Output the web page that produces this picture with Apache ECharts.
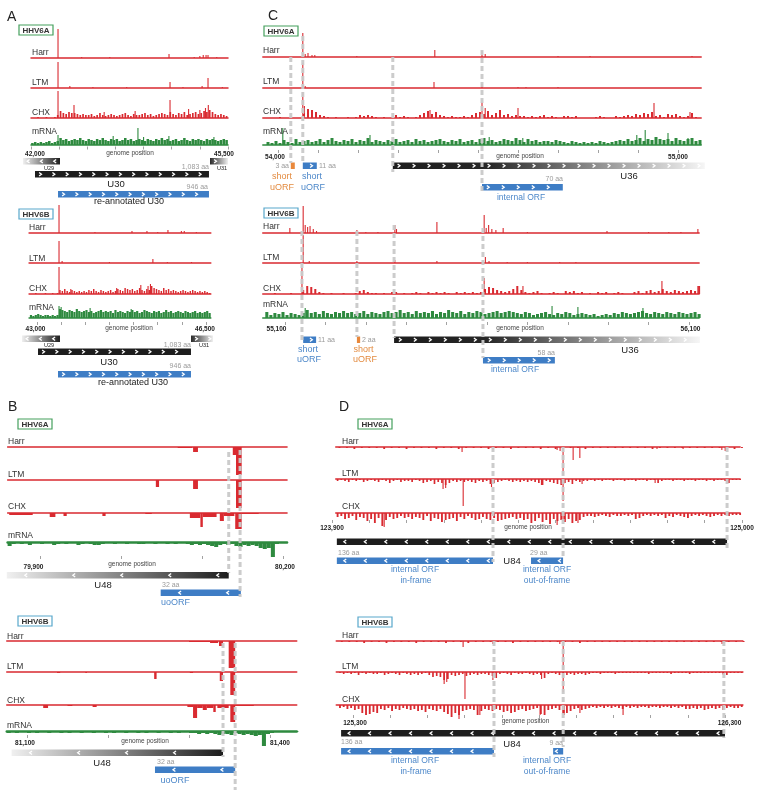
<!DOCTYPE html>
<html><head><meta charset="utf-8">
<script src="https://cdn.jsdelivr.net/npm/echarts/dist/echarts.min.js"></script>
<style>html,body{margin:0;padding:0;background:#fff}#c{width:760px;height:791px}</style>
</head><body><div id="c"></div>
<script>
// ================= DATA (genomic positions in bp, signal in relative read density) =================
// ---- Panel A, HHV6A ----
const A6A_AXIS = [42000, 45500, 500];
const A6A_HARR = [[42480,29],[42900,1],[43400,1],[44452,4],[44900,1],[45000,2],[45060,3],[45110,3],[45145,3],[45300,1]];
const A6A_LTM = [[42480,26],[42690,2],[43100,1],[43700,1],[44470,6],[44700,1],[45040,2],[45145,10],[45400,1]];
const A6A_CHX_BINS = [0,0,1,0,0,1,0,0,1,3, 7,5,4,6,5,5,4,3,4,3, 3,4,2,3,5,3,2,3,4,3, 2,3,4,5,3,2,4,3,3,4, 5,3,4,2,3,4,5,4,3,6, 4,3,5,4,6,3,4,5,6,4, 5,7,6,8,6,4,3,4,3,2];
const A6A_CHX_PEAKS = [[42480,27],[42764,13],[43300,6],[43850,7],[44470,18],[44800,9],[45000,8],[45100,10],[45150,13]];
const A6A_MRNA_BINS = [2,3,2,3,2,3,4,2,3,4, 7,5,6,4,5,6,5,7,5,4, 6,5,4,6,5,7,5,4,6,5, 6,4,5,7,5,6,4,5,6,5, 4,6,5,4,6,5,7,5,6,4, 5,6,4,5,7,5,4,6,5,6, 5,4,6,5,6,5,4,5,6,5];
const A6A_MRNA_PEAKS = [[42480,10],[43460,9],[43900,17],[44000,8],[44450,9],[45250,8]];
const A6A_GENES = [['U29',41858,42515,'-','fadeL'],['U31',45180,45500,'+','fadeR'],['U30',42071,45162,'+','black'],['re-annotated U30',42480,45162,'+','blue']];
// ---- Panel A, HHV6B ----
const A6B_AXIS = [43000, 46500, 500];
const A6B_HARR = [[43456,28],[44200,1],[44967,2],[45277,2],[45500,1],[45712,3],[45990,2],[46050,2],[46300,1]];
const A6B_LTM = [[43456,22],[43520,2],[44500,1],[45400,4],[45700,1],[46200,1]];
const A6B_CHX_BINS = [0,0,1,0,0,0,1,0,0,1,0,1, 4,3,5,3,2,4,3,2,3,2, 3,2,4,3,5,3,2,4,3,2, 3,4,2,3,5,4,3,6,5,4, 5,3,4,6,4,3,5,4,8,6, 5,4,3,6,4,5,3,4,3,2, 3,4,3,2,3,4,3,2,3,2,3,2,1];
const A6B_CHX_PEAKS = [[43456,27],[43700,5],[44650,6],[45150,9],[45300,8],[45350,10]];
const A6B_MRNA_BINS = [3,2,3,4,3,2,3,3,2,3,2,3, 9,8,7,6,8,7,6,9,7,6, 7,8,6,7,5,6,7,8,6,7, 6,7,5,8,6,7,6,5,7,6, 8,6,7,5,6,8,7,6,5,7, 6,7,5,6,8,6,7,5,6,7, 6,5,7,6,5,6,7,5,6,5,6,7,5];
const A6B_MRNA_PEAKS = [[43456,12],[43500,11],[44100,10],[44950,9]];
const A6B_GENES = [['U29',42689,43476,'-','fadeL'],['U31',46189,46645,'+','fadeR'],['U30',43021,46189,'+','black'],['re-annotated U30',43435,46189,'+','blue']];
// ---- Panel C, HHV6A ----
const C6A_AXIS = [54000, 55000, 100];
const C6A_HARR = [[54062,24],[54068,3],[54075,4],[54085,2],[54092,2],[54197,1],[54392,7],[54510,6],[54518,3],[54700,1],[54780,1],[55035,1]];
const C6A_LTM = [[54062,25],[54068,2],[54390,6],[54510,4],[54600,1],[54620,1],[54700,1]];
const C6A_CHX_BINS = [0,0,0,1,0,0,0,0,0, 4,9,8,6,3,2, 1,0,1,0,0,1,0,1, 3,2,3,2,1, 0,1,0,1, 3,1,2,1,0,1, 3,5,7,4,6,3, 2,1,2,1, 1,2,1,3, 5,6,4,7, 3,5,8,3,4,2,3,2,2, 1,2,1,2,3,1,2,1,0,2, 2,1,2,0,0,0,0,1,2,1, 0,0,2,1,2,3,2,4,3,5, 4,6,2,3,1,4,3,4,2,1, 2,5,1,0];
const C6A_CHX_PEAKS = [[54062,26],[54066,12],[54380,8],[54510,16],[54518,10],[54600,10],[54940,15],[55030,6]];
const C6A_MRNA_BINS = [3,2,4,2,5,3,2,6,3,4, 5,3,4,6,3,5,7,4,3,5, 4,6,3,5,4,7,3,5,4,3, 5,4,6,3,4,5,3,6,4,5, 3,4,5,6,4,3,5,4,6,3, 4,5,3,6,7,4,5,3,4,6, 5,4,7,5,3,6,4,5,3,4, 4,3,5,4,3,2,4,3,2,3, 2,3,2,4,3,2,3,4,5,4, 6,4,5,7,4,6,5,8,6,5, 6,4,7,5,4,6,7,4,5];
const C6A_MRNA_PEAKS = [[54012,17],[54230,10],[54528,8],[54612,7],[54897,10],[54918,15],[54975,12],[55025,7]];
const C6A_GENES = [['short uORF',54032,54042,'+','orange'],['short uORF',54062,54097,'+','blue'],['U36',54287,55067,'+','fadeEnd'],['internal ORF',54510,54712,'+','blue']];
const C6A_MARKS = [54032, 54062, 54287, 54510];
// ---- Panel C, HHV6B ----
const C6B_AXIS = [55100, 56100, 100];
const C6B_HARR = [[55112,5],[55145,27],[55150,8],[55156,6],[55162,7],[55170,4],[55178,2],[55278,3],[55300,1],[55330,1],[55372,8],[55376,4],[55476,11],[55593,18],[55598,5],[55604,8],[55612,4],[55622,3],[55640,5],[55700,1],[55897,2],[56000,1],[56050,1],[56080,1],[56122,4]];
const C6B_LTM = [[55145,28],[55160,2],[55278,2],[55372,3],[55476,2],[55596,6],[55605,2],[55650,1],[55700,1],[55780,1],[55820,1]];
const C6B_CHX_BINS = [0,0,1,0,0,0,1,0,0, 4,8,7,5,2, 1,0,1,0,0,1,0,0,1, 3,4,2,1,1, 0,1,0,2,2,0, 1,0,1,2,1,0,2,1,2,1, 2,1,0,2,1,2,1,2,1,2, 5,7,6,4,3,2, 3,5,8,4,2,1,2,3,1,0, 1,2,1,0,3,2,3,1,2,0, 1,0,2,1,2,0,1,2,1,0, 0,2,3,1,3,4,2,3,5,3, 2,4,3,2,3,4,3,8];
const C6B_CHX_PEAKS = [[55142,26],[55593,16],[55689,8],[56033,13],[56122,8]];
const C6B_MRNA_BINS = [6,3,5,4,6,3,5,4,3,5, 8,5,6,4,7,5,4,6,5,7, 5,6,4,5,7,4,6,5,4,6, 7,5,6,8,5,6,4,7,5,6, 5,7,4,6,5,8,6,5,7,4, 6,5,7,6,4,5,6,7,5,6, 7,6,5,4,6,5,3,4,5,6, 4,3,5,4,6,5,3,4,5,4, 3,4,2,3,4,3,5,4,6,5, 4,5,6,7,5,4,6,5,4,6, 5,4,6,5,4,5,6,4];
const C6B_MRNA_PEAKS = [[55150,10],[55761,12],[55825,11],[55986,10]];
const C6B_GENES = [['short uORF',55145,55177,'+','blue'],['short uORF',55278,55286,'+','orange'],['U36',55370,56127,'+','fadeEnd'],['internal ORF',55590,55768,'+','blue']];
const C6B_MARKS = [55142, 55278, 55370, 55590];
// ---- Panel B, HHV6A (minus strand, [start, end, signal]) ----
const B6A_AXIS = [79900, 80200, 100];
const B6A_HARR = [[80070,80088,1],[80089,80095,5],[80138,80142,8],[80142,80149,28]];
const B6A_LTM = [[80043,80047,7],[80089,80095,9],[80142,80149,28]];
const B6A_CHX = [[79862,79891,2],[79912,79919,4],[79929,79933,3],[79977,79981,3],[80030,80038,1],[80085,80098,5],[80098,80101,14],[80101,80118,4],[80122,80127,8],[80127,80140,3],[80141,80149,16],[80149,80170,1]];
const B6A_MRNA_BINS = [4,2,1,2,1,3,1,1,2,1, 1,3,2,1,2,1,1,3,2,1, 2,3,3,2,1,1,2,1,1,2, 1,1,2,2,1,1,2,1,1,2, 1,2,1,1,2,3,2,3,2,3, 4,5,3,2,3,2,4,5,3,4, 3,4,6,7,6,15,2,1,1];
const B6A_GENES = [['U48',79859,80133,'-','fadeL'],['uoORF',80049,80148,'-','blue']];
const B6A_MARKS = [80133, 80147];
// ---- Panel B, HHV6B ----
const B6B_AXIS = [81100, 81400, 100];
const B6B_HARR = [[81300,81326,1],[81326,81336,2],[81337,81342,5],[81349,81357,27]];
const B6B_LTM = [[81137,81141,1],[81172,81174,1],[81257,81260,7],[81301,81305,1],[81338,81342,9],[81351,81357,23]];
const B6B_CHX = [[81120,81126,3],[81150,81156,1],[81181,81186,2],[81298,81305,2],[81305,81310,13],[81310,81317,3],[81317,81322,5],[81322,81330,3],[81330,81333,7],[81335,81349,3],[81351,81357,17],[81357,81380,1]];
const B6B_MRNA_BINS = [2,1,2,1,1,2,1,2,1,1, 2,1,1,2,1,2,1,1,2,1, 1,2,1,1,2,1,2,1,1,2, 1,1,2,1,2,1,1,2,1,1, 2,1,2,1,1,2,2,3,2,3, 2,3,4,3,3,4,2,3,4,3, 4,5,4,15,3,2,1,1,1,1,1,1];
const B6B_GENES = [['U48',81081,81342,'-','fadeL'],['uoORF',81258,81357,'-','blue']];
const B6B_MARKS = [81342, 81357];
// ---- Panel D, HHV6A (minus strand) ----
const D6A_AXIS = [123900, 125000, 100];
const D6A_HARR_BINS = [1,1,2,1,1,1,2,1,1,2, 1,1,1,2,1,1,2,1,1,1, 2,1,1,2,1,1,1,2,1,2, 1,1,1,2,1,1,1,1,1,1, 1,1,2,1,1,1,1,1,1,1, 1,1,1,2,1];
const D6A_HARR_PEAKS = [[124249,5],[124332,3],[124504,3],[124512,4],[124520,28],[124547,13],[124565,11],[124772,2],[124842,2],[124946,3],[124955,4]];
const D6A_LTM_BINS = [2,1,2,3,1,2,1,3,2,1, 2,3,1,2,4,2,1,3,2,2, 3,1,2,4,3,2,5,3,4,6, 4,2,3,2,3,2,3,4,2,3, 2,5,4,3,2,1,2,3,2,3, 2,3,2,3,4,6,2,3,4,5, 6,4,3,5,2,3,2,2,1,2, 1,2,1,1,2,1,1,2,1,1, 2,1,1,2,1,1,4,2,1,1, 2,1,1,2,1,1,2,1,1,2, 1,2,1,1,2,4,1,1,1];
const D6A_LTM_PEAKS = [[124198,10],[124205,9],[124252,27],[124328,8],[124462,6],[124520,22],[124571,5],[124767,4],[124960,4]];
const D6A_CHX_BINS = [4,3,6,5,3,7,4,5,8,6, 10,5,13,7,4,6,5,3,5,4, 6,4,5,7,3,8,5,6,9,7, 6,5,8,4,6,3,5,7,6,4, 6,7,5,8,7,6,5,4,6,5, 7,6,10,8,5,9,7,11,6,8, 7,9,6,10,8,7,4,3,3,4, 3,2,3,4,2,3,3,2,3,2, 6,5,3,2,3,2,3,2,5,3, 4,2,3,4,5,3,2,3,2,3, 4,3,2,3,2,3,2,2,2];
const D6A_CHX_PEAKS = [[124040,14],[124504,12],[124520,8],[124560,10]];
const D6A_GENES = [['U84',123913,124960,'-','black'],['internal ORF in-frame',123913,124332,'-','blue'],['internal ORF out-of-frame',124434,124520,'-','blue']];
const D6A_MARKS = [124332, 124520, 124960];
// ---- Panel D, HHV6B ----
const D6B_AXIS = [125300, 126300, 100];
const D6B_HARR_BINS = [1,1,1,2,1,1,2,1,1,1, 2,1,1,1,2,1,1,2,1,1, 1,1,1,2,1,1,1,1,1,1, 1,1,2,1,1,1,1,1,1,1, 1,1,1,1,1,1,1,1,1,1, 1,1,1,1,1];
const D6B_HARR_PEAKS = [[125596,6],[125676,3],[125856,3],[125865,29],[126292,3],[126297,2]];
const D6B_LTM_BINS = [1,2,1,2,1,3,1,2,1,2, 2,1,3,2,1,2,3,1,2,3, 2,3,2,1,3,5,4,5,8,7, 3,4,3,2,4,3,2,3,2,2, 3,4,6,2,1,2,3,1,2,2, 1,2,3,2,3,6,2,1,2,3, 4,3,2,3,2,2,3,2,1,1, 2,1,1,1,2,1,1,1,1,1, 1,1,1,2,1,1,1,1,1,2, 1,1,1,1,2,1,1,1,1,1, 1,1,1,2,3,1,1,1,1];
const D6B_LTM_PEAKS = [[125545,12],[125552,10],[125601,27],[125676,8],[125807,7],[125865,20],[126295,3]];
const D6B_CHX_BINS = [3,2,4,3,5,4,8,10,9,7, 8,4,5,3,6,4,5,3,4,5, 4,6,5,7,4,5,6,4,7,9, 12,8,10,6,5,4,5,10,6,4, 5,6,4,5,7,6,8,7,5,4, 6,5,4,3,9,10,5,4,3,5, 9,8,6,4,3,5,4,3,2,3, 2,3,2,3,2,3,4,2,3,2, 3,2,2,3,2,2,3,2,2,3, 2,3,2,4,4,3,4,3,5,4, 3,4,3,5,3,2,3,3,2];
const D6B_CHX_PEAKS = [[125585,14],[125641,10],[125803,10],[125868,10],[125910,8],[126026,10]];
const D6B_GENES = [['U84',125268,126300,'-','black'],['internal ORF in-frame',125268,125679,'-','blue'],['internal ORF out-of-frame',125838,125865,'-','blue']];
const D6B_MARKS = [125679, 125865, 126297];

// ================= STYLE / LAYOUT =================
const FONT = '"Liberation Sans", Arial, Helvetica, sans-serif';
const RED = '#d92a30', GREEN = '#2e8a3f', BLUE = '#3e7dc5', ORANGE = '#e9883b', DASH = '#c9c9c9';
const TXT_BLUE = '#4c87c9', TXT_ORANGE = '#e38b40', GREY_TXT = '#9b9b9b';
const BOX_GREEN = '#45a05d', BOX_BLUE = '#58a7cb';
const H = 30, GENE_H = 6.5;

function T(name, base, ly, color, o) { return Object.assign({label: name, base, ly, color}, o || {}); }

const sections = [
  { axis: A6A_AXIS, x0: 31, ppb: 197 / 3500, track: [42000, 45500], tickY: 146.5, dir: 1, labelX: 32,
    genes: A6A_GENES, rows: [158, 158, 171, 191], gap: 13.3, marks: [], marksY: [],
    endLabels: [[35, 154], [224, 154]], gp: [130, 153],
    tracks: [T('Harr', 58, 53, RED, {peaks: A6A_HARR}), T('LTM', 88, 83, RED, {peaks: A6A_LTM}),
      T('CHX', 118, 113, RED, {bins: A6A_CHX_BINS, bs: 42000, step: 50, fill: 0.6, peaks: A6A_CHX_PEAKS}),
      T('mRNA', 145, 132, GREEN, {bins: A6A_MRNA_BINS, bs: 42000, step: 50, fill: 0.9, peaks: A6A_MRNA_PEAKS})],
    texts: [[49, 168.5, 'U29', 5.5], [222, 168.5, 'U31', 5.5], [209, 167.5, '1,083 aa', 7, GREY_TXT, 'right'],
      [116, 184, 'U30', 9.5], [208, 187, '946 aa', 7, GREY_TXT, 'right'], [129, 202, 're-annotated U30', 9]],
    box: [19, 25, 'HHV6A', BOX_GREEN] },
  { axis: A6B_AXIS, x0: 37, ppb: 169 / 3500, track: [42835, 46600], tickY: 322, dir: 1, labelX: 29,
    genes: A6B_GENES, rows: [335.5, 335.5, 348.5, 371], gap: 13.3, marks: [], marksY: [],
    endLabels: [[35.5, 329], [205, 329]], gp: [129, 328],
    tracks: [T('Harr', 233, 228, RED, {peaks: A6B_HARR}), T('LTM', 263, 259, RED, {peaks: A6B_LTM}),
      T('CHX', 294, 289, RED, {bins: A6B_CHX_BINS, bs: 42850, step: 50, fill: 0.6, peaks: A6B_CHX_PEAKS}),
      T('mRNA', 318, 308, GREEN, {bins: A6B_MRNA_BINS, bs: 42850, step: 50, fill: 0.9, peaks: A6B_MRNA_PEAKS})],
    texts: [[49, 345, 'U29', 5.5], [204, 345, 'U31', 5.5], [191, 345, '1,083 aa', 7, GREY_TXT, 'right'],
      [109, 362.5, 'U30', 9.5], [191, 366.5, '946 aa', 7, GREY_TXT, 'right'], [133, 383, 're-annotated U30', 9]],
    box: [19, 209, 'HHV6B', BOX_BLUE] },
  { axis: C6A_AXIS, x0: 278, ppb: 0.4, track: [53962, 55058], tickY: 150, dir: 1, labelX: 263,
    genes: C6A_GENES, rows: [162.5, 162.5, 162.5, 184], gap: 15, marks: C6A_MARKS, marksY: [[57, 163], [36, 163], [57, 172], [50, 191]],
    endLabels: [[275, 157], [678, 157]], gp: [520, 156],
    tracks: [T('Harr', 57, 51, RED, {peaks: C6A_HARR}), T('LTM', 88, 82, RED, {peaks: C6A_LTM}),
      T('CHX', 118, 112, RED, {bins: C6A_CHX_BINS, bs: 53970, step: 10, fill: 0.5, peaks: C6A_CHX_PEAKS}),
      T('mRNA', 145, 132, GREEN, {bins: C6A_MRNA_BINS, bs: 53970, step: 10, fill: 0.75, peaks: C6A_MRNA_PEAKS})],
    texts: [[289, 166, '3 aa', 7, GREY_TXT, 'right'], [319, 166, '11 aa', 7, GREY_TXT, 'left'],
      [282, 177, 'short', 9, TXT_ORANGE], [282, 188, 'uORF', 9, TXT_ORANGE],
      [312, 177, 'short', 9, TXT_BLUE], [313, 188, 'uORF', 9, TXT_BLUE],
      [629, 176, 'U36', 9.5], [563, 179, '70 aa', 7, GREY_TXT, 'right'], [521, 198, 'internal ORF', 8.5, TXT_BLUE]],
    box: [264, 26, 'HHV6A', BOX_GREEN] },
  { axis: C6B_AXIS, x0: 285, ppb: 0.404, track: [55045, 56125], tickY: 322, dir: 1, labelX: 263,
    genes: C6B_GENES, rows: [336.5, 336.5, 336.5, 357], gap: 15, marks: C6B_MARKS, marksY: [[231, 340], [231, 337], [225, 338], [228, 358]],
    endLabels: [[276.5, 329], [690.5, 329]], gp: [520, 328],
    tracks: [T('Harr', 233, 227, RED, {peaks: C6B_HARR}), T('LTM', 263, 258, RED, {peaks: C6B_LTM}),
      T('CHX', 294, 289, RED, {bins: C6B_CHX_BINS, bs: 55050, step: 10, fill: 0.5, peaks: C6B_CHX_PEAKS}),
      T('mRNA', 318, 305, GREEN, {bins: C6B_MRNA_BINS, bs: 55050, step: 10, fill: 0.75, peaks: C6B_MRNA_PEAKS})],
    texts: [[318, 340, '11 aa', 7, GREY_TXT, 'left'], [362, 340, '2 aa', 7, GREY_TXT, 'left'],
      [308, 350, 'short', 9, TXT_BLUE], [309, 360, 'uORF', 9, TXT_BLUE],
      [363.5, 350, 'short', 9, TXT_ORANGE], [365, 360, 'uORF', 9, TXT_ORANGE],
      [630, 350, 'U36', 9.5], [555, 353, '58 aa', 7, GREY_TXT, 'right'], [515, 370, 'internal ORF', 8.5, TXT_BLUE]],
    box: [264, 208, 'HHV6B', BOX_BLUE] },
  { axis: B6A_AXIS, x0: 40, ppb: 0.81, track: [79860, 80205], tickY: 556, dir: -1, labelX: 8,
    genes: B6A_GENES, rows: [572, 589.5], gap: 48, marks: B6A_MARKS, marksY: [[452, 573], [450, 597]],
    endLabels: [[33.5, 567], [285, 567]], gp: [132, 564],
    tracks: [T('Harr', 447, 442, RED, {segs: B6A_HARR}), T('LTM', 480, 475, RED, {segs: B6A_LTM}),
      T('CHX', 513, 507, RED, {segs: B6A_CHX}),
      T('mRNA', 542, 536, GREEN, {bins: B6A_MRNA_BINS, bs: 79860, step: 5, fill: 1, lw: 2.5})],
    texts: [[103, 585, 'U48', 9.5], [162, 585, '32 aa', 7, GREY_TXT, 'left'], [175.5, 603, 'uoORF', 9, TXT_BLUE]],
    box: [18, 419, 'HHV6A', BOX_GREEN] },
  { axis: B6B_AXIS, x0: 27, ppb: 0.81, track: [81075, 81433], tickY: 735, dir: -1, labelX: 7,
    genes: B6B_GENES, rows: [749.5, 766.5], gap: 48, marks: B6B_MARKS, marksY: [[643, 757], [643, 790]],
    endLabels: [[25, 743], [280, 743]], gp: [145, 741],
    tracks: [T('Harr', 641, 637, RED, {segs: B6B_HARR}), T('LTM', 672, 667, RED, {segs: B6B_LTM}),
      T('CHX', 705, 701, RED, {segs: B6B_CHX}),
      T('mRNA', 731, 726, GREEN, {bins: B6B_MRNA_BINS, bs: 81075, step: 5, fill: 1, lw: 2.5})],
    texts: [[102, 763, 'U48', 9.5], [157, 762, '32 aa', 7, GREY_TXT, 'left'], [175, 781, 'uoORF', 9, TXT_BLUE]],
    box: [18, 616, 'HHV6B', BOX_BLUE] },
  { axis: D6A_AXIS, x0: 332, ppb: 0.3727, track: [123910, 124995], tickY: 520, dir: -1, labelX: 342,
    genes: D6A_GENES, rows: [538.5, 557.5, 557.5], gap: 20.5, marks: D6A_MARKS, marksY: [[447, 562], [447, 558], [447, 548]],
    endLabels: [[332, 528], [742, 528]], gp: [528, 527],
    tracks: [T('Harr', 447, 442, RED, {bins: D6A_HARR_BINS, bs: 123910, step: 20, fill: 0.25, peaks: D6A_HARR_PEAKS}),
      T('LTM', 479, 474, RED, {bins: D6A_LTM_BINS, bs: 123910, step: 10, fill: 0.45, peaks: D6A_LTM_PEAKS}),
      T('CHX', 513, 507, RED, {bins: D6A_CHX_BINS, bs: 123910, step: 10, fill: 0.5, peaks: D6A_CHX_PEAKS})],
    texts: [[338, 553, '136 aa', 7, GREY_TXT, 'left'], [512, 561, 'U84', 9.5], [530, 553, '29 aa', 7, GREY_TXT, 'left'],
      [415, 570, 'internal ORF', 8.5, TXT_BLUE], [416, 581, 'in-frame', 8.5, TXT_BLUE],
      [547, 570, 'internal ORF', 8.5, TXT_BLUE], [547, 581, 'out-of-frame', 8.5, TXT_BLUE]],
    box: [358, 419, 'HHV6A', BOX_GREEN] },
  { axis: D6B_AXIS, x0: 353, ppb: 0.372, track: [125255, 126348], tickY: 715, dir: -1, labelX: 342,
    genes: D6B_GENES, rows: [730, 748, 748], gap: 20.5, marks: D6B_MARKS, marksY: [[641, 757], [641, 747], [641, 738]],
    endLabels: [[355, 723], [729.5, 723]], gp: [525.5, 721.5],
    tracks: [T('Harr', 641, 636, RED, {bins: D6B_HARR_BINS, bs: 125260, step: 20, fill: 0.25, peaks: D6B_HARR_PEAKS}),
      T('LTM', 672, 667, RED, {bins: D6B_LTM_BINS, bs: 125260, step: 10, fill: 0.45, peaks: D6B_LTM_PEAKS}),
      T('CHX', 705, 700, RED, {bins: D6B_CHX_BINS, bs: 125260, step: 10, fill: 0.5, peaks: D6B_CHX_PEAKS})],
    texts: [[341, 742.5, '136 aa', 7, GREY_TXT, 'left'], [512, 744, 'U84', 9.5], [563, 743, '9 aa', 7, GREY_TXT, 'right'],
      [415, 761, 'internal ORF', 8.5, TXT_BLUE], [416, 772, 'in-frame', 8.5, TXT_BLUE],
      [547, 761, 'internal ORF', 8.5, TXT_BLUE], [547, 772, 'out-of-frame', 8.5, TXT_BLUE]],
    box: [358, 617, 'HHV6B', BOX_BLUE] }
];

// ================= BUILD =================
const option = { animation: false, backgroundColor: '#fff', grid: [], xAxis: [], yAxis: [], series: [], graphic: [] };
const fmt = v => v.toLocaleString('en-US');
function text(x, y, s, size, color, align, bold) {
  return { type: 'text', x, y, z: 100, silent: true,
    style: { text: s, fill: color || '#222', font: (bold ? 'bold ' : '') + size + 'px ' + FONT, textAlign: align || 'center', textVerticalAlign: 'middle' } };
}
function addGrid(left, top, width, height, xa, ya) {
  const gi = option.grid.length;
  option.grid.push({ left, top, width, height, containLabel: false });
  option.xAxis.push(Object.assign({ gridIndex: gi, type: 'value', axisLabel: { show: false }, axisTick: { show: false }, splitLine: { show: false }, axisLine: { show: false } }, xa));
  option.yAxis.push(Object.assign({ gridIndex: gi, type: 'value', show: false, min: 0, max: 1, splitLine: { show: false } }, ya));
  return gi;
}
function trackRender(tr) {
  return function (params, api) {
    const a = api.value(0), b = api.value(1), v = api.value(2);
    const p0 = api.coord([a, 0]), p1 = api.coord([b, v]);
    const w = p1[0] - p0[0], cx = (p0[0] + p1[0]) / 2;
    const dw = Math.max(1.1, w * tr.fillUse);
    return { type: 'rect', shape: { x: cx - dw / 2, y: Math.min(p0[1], p1[1]), width: dw, height: Math.abs(p1[1] - p0[1]) }, style: { fill: tr.color } };
  };
}
function geneFill(kind) {
  const G = (stops) => new echarts.graphic.LinearGradient(0, 0, 1, 0, stops.map(s => ({ offset: s[0], color: s[1] })));
  switch (kind) {
    case 'black': return '#1d1d1d';
    case 'blue': return BLUE;
    case 'orange': return ORANGE;
    case 'fadeL': return G([[0, '#f0f0f0'], [1, '#1d1d1d']]);
    case 'fadeR': return G([[0, '#2a2a2a'], [1, '#f0f0f0']]);
    case 'fadeEnd': return G([[0, '#1d1d1d'], [0.3, '#262626'], [1, '#f6f6f6']]);
  }
}

sections.forEach(sec => {
  const [amin, amax, astep] = sec.axis;
  const px = v => sec.x0 + (v - amin) * sec.ppb;
  sec.tracks.forEach(tr => {
    const left = px(sec.track[0]), width = (sec.track[1] - sec.track[0]) * sec.ppb;
    const top = sec.dir > 0 ? tr.base - H : tr.base;
    const gi = addGrid(left, top, width, H,
      { min: sec.track[0], max: sec.track[1], position: sec.dir > 0 ? 'bottom' : 'top',
        axisLine: { show: true, onZero: false, lineStyle: { color: tr.color, width: tr.lw || 1.5 } } },
      { min: 0, max: H, inverse: sec.dir < 0 });
    const binItems = [], peakItems = [];
    if (tr.bins) tr.bins.forEach((v, i) => { if (v > 0) binItems.push([tr.bs + i * tr.step, tr.bs + (i + 1) * tr.step, v]); });
    if (tr.segs) tr.segs.forEach(s => binItems.push([s[0], s[1], s[2]]));
    if (tr.peaks) tr.peaks.forEach(p => peakItems.push([p[0], p[0], p[1]]));
    const binTr = Object.assign({}, tr, { fillUse: tr.segs ? 1 : (tr.fill || 1) });
    const peakTr = Object.assign({}, tr, { fillUse: 1 });
    [[binItems, binTr], [peakItems, peakTr]].forEach(([data, t]) => {
      if (!data.length) return;
      option.series.push({ type: 'custom', xAxisIndex: gi, yAxisIndex: gi, clip: false, z: 3, silent: true,
        encode: { x: [0, 1], y: 2 }, data, renderItem: trackRender(t) });
    });
    option.graphic.push(text(sec.labelX, tr.ly, tr.label, 8.5, '#333', 'left'));
  });
  const ag = addGrid(px(amin), sec.tickY - 1, (amax - amin) * sec.ppb, 1,
    { min: amin, max: amax, interval: astep, position: 'bottom',
      axisTick: { show: true, length: 3, lineStyle: { color: '#8a8a8a', width: 0.8 } } }, {});
  option.series.push({ type: 'custom', xAxisIndex: ag, yAxisIndex: ag, clip: false, z: 4, silent: true,
    encode: { x: [0, 1] }, data: sec.genes.map((g, i) => [g[1], g[2], i]),
    renderItem: function (params, api) {
      const i = api.value(2), g = sec.genes[i];
      const xa = api.coord([g[1], 0])[0], xb = api.coord([g[2], 0])[0];
      const y = sec.rows[i], h = GENE_H;
      const children = [{ type: 'rect', shape: { x: xa, y, width: xb - xa, height: h }, style: { fill: geneFill(g[4]) } }];
      if (g[4] !== 'orange') {
        const w = xb - xa, xs = [];
        if (w < sec.gap) xs.push(xa + w / 2 + (g[3] === '+' ? 1.5 : -1.5));
        else for (let c = xa + sec.gap * 0.4; c < xb - 2; c += sec.gap) xs.push(c);
        xs.forEach(c => {
          const d = g[3] === '+' ? 1 : -1;
          children.push({ type: 'polyline', shape: { points: [[c - 1.2 * d, y + 1.4], [c + 1.2 * d, y + h / 2], [c - 1.2 * d, y + h - 1.4]] },
            style: { stroke: '#fff', lineWidth: 1.3, fill: null } });
        });
      }
      return { type: 'group', children };
    } });
  if (sec.marks.length) {
    option.series.push({ type: 'custom', xAxisIndex: ag, yAxisIndex: ag, clip: false, z: 6, silent: true,
      encode: { x: 0 }, data: sec.marks.map((m, i) => [m, i]),
      renderItem: function (params, api) {
        const x = api.coord([api.value(0), 0])[0], yy = sec.marksY[api.value(1)];
        return { type: 'line', shape: { x1: x, y1: yy[0], x2: x, y2: yy[1] }, style: { stroke: DASH, lineWidth: 3, lineDash: [5, 3], opacity: 0.95 } };
      } });
  }
  option.graphic.push(text(sec.endLabels[0][0], sec.endLabels[0][1], fmt(amin), 6.5, '#222', 'center', true));
  option.graphic.push(text(sec.endLabels[1][0], sec.endLabels[1][1], fmt(amax), 6.5, '#222', 'center', true));
  option.graphic.push(text(sec.gp[0], sec.gp[1], 'genome position', 6.5, '#444'));
  sec.texts.forEach(t => option.graphic.push(text(t[0], t[1], t[2], t[3], t[4] || '#222', t[5] || 'center')));
  const [bx, by, bt, bc] = sec.box;
  option.graphic.push({ type: 'rect', z: 100, silent: true, shape: { x: bx, y: by, width: 34, height: 10 }, style: { fill: '#fff', stroke: bc, lineWidth: 1.2 } });
  option.graphic.push(text(bx + 17, by + 5.3, bt, 8, '#333', 'center', true));
});
[['A', 7, 17.5], ['B', 8, 407], ['C', 268, 16], ['D', 339, 407]].forEach(l => option.graphic.push(text(l[1], l[2], l[0], 14, '#222', 'left')));

const chart = echarts.init(document.getElementById('c'), null, { renderer: 'canvas', width: 760, height: 791 });
chart.setOption(option);
</script></body></html>
